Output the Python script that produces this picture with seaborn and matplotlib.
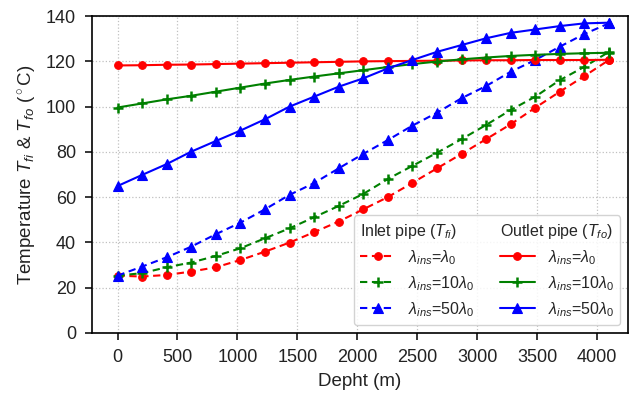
import numpy as np
import pandas as pd
import matplotlib
matplotlib.use("Agg")
import matplotlib.pyplot as plt
from matplotlib.lines import Line2D
import seaborn as sns

# Depth stations along the well (m)
depth = [0, 205, 410, 615, 820, 1025, 1230, 1435, 1640, 1845, 2050,
         2255, 2460, 2665, 2870, 3075, 3280, 3485, 3690, 3895, 4100]

# Inlet pipe temperature T_fi (deg C) for three insulation conductivities
inlet_1 = [25.3, 24.9, 25.6, 27.1, 29.0, 32.2, 35.9, 39.9, 44.5, 49.2, 54.6,
           60.0, 66.3, 72.7, 79.1, 85.6, 92.2, 99.5, 106.6, 113.5, 120.6]
inlet_10 = [25.3, 26.4, 29.0, 31.1, 34.0, 37.4, 41.8, 46.2, 51.1, 56.1, 61.4,
            68.0, 73.8, 79.6, 85.6, 91.9, 98.5, 104.4, 111.7, 117.6, 124.2]
inlet_50 = [25.3, 29.3, 33.4, 38.1, 43.6, 48.7, 54.6, 61.0, 66.2, 72.7, 79.1,
            85.2, 91.6, 97.3, 103.7, 109.1, 115.4, 120.6, 126.5, 132.1, 136.8]

# Outlet pipe temperature T_fo (deg C)
outlet_1 = [118.2, 118.3, 118.5, 118.6, 118.8, 119.0, 119.2, 119.4, 119.6, 119.8, 120.0,
            120.1, 120.2, 120.3, 120.4, 120.5, 120.5, 120.6, 120.6, 120.6, 120.7]
outlet_10 = [99.6, 101.4, 103.2, 104.8, 106.6, 108.4, 110.2, 111.8, 113.3, 114.7, 116.1,
             117.5, 118.8, 119.9, 120.9, 121.7, 122.4, 122.9, 123.3, 123.6, 123.8]
outlet_50 = [64.9, 69.8, 74.6, 80.1, 84.8, 89.4, 94.4, 100.0, 104.4, 108.8, 112.5,
             116.9, 120.6, 124.2, 127.2, 130.2, 132.6, 134.1, 135.6, 136.8, 137.1]

case_labels = [r"$\lambda_{ins}$=$\lambda_0$", r"$\lambda_{ins}$=10$\lambda_0$",
               r"$\lambda_{ins}$=50$\lambda_0$"]
colors = ["red", "green", "blue"]
markers = ["o", "+", "^"]
msize = {"o": 5.5, "+": 7.5, "^": 6.5}
mew = {"o": 0.8, "+": 1.8, "^": 0.8}
dash = (3.5, 2.2)

sns.set_style("ticks")
plt.rcParams["font.family"] = ["Liberation Sans", "DejaVu Sans"]
plt.rcParams["mathtext.fontset"] = "custom"
plt.rcParams["mathtext.rm"] = "Liberation Sans"
plt.rcParams["mathtext.it"] = "Liberation Sans:italic"
plt.rcParams["mathtext.bf"] = "Liberation Sans:bold"

fig = plt.figure(figsize=(6.30, 4.03), dpi=100)
ax = fig.add_axes([0.146, 0.174, 0.851, 0.786])

df = pd.DataFrame({"depth": depth,
                   "in1": inlet_1, "in10": inlet_10, "in50": inlet_50,
                   "out1": outlet_1, "out10": outlet_10, "out50": outlet_50})

inlet_cols = ["in1", "in10", "in50"]
outlet_cols = ["out1", "out10", "out50"]

for col, c, m in zip(inlet_cols, colors, markers):
    sns.lineplot(data=df, x="depth", y=col, ax=ax, color=c, dashes=dash,
                 marker=m, markersize=msize[m], markeredgewidth=mew[m],
                 markeredgecolor=c, linewidth=1.5, legend=False, zorder=3)
for col, c, m in zip(outlet_cols, colors, markers):
    sns.lineplot(data=df, x="depth", y=col, ax=ax, color=c, linestyle="-",
                 marker=m, markersize=msize[m], markeredgewidth=mew[m],
                 markeredgecolor=c, linewidth=1.5, legend=False, zorder=3)

ax.set_xlim(-213, 4260)
ax.set_ylim(0, 140)
ax.set_xticks(np.arange(0, 4001, 500))
ax.set_yticks(np.arange(0, 141, 20))
ax.grid(True, color="#c0c0c0", linestyle=":", linewidth=0.9)
ax.tick_params(direction="out", length=5, width=1.1, pad=6.5, colors="black",
               labelsize=13, labelcolor="#222222")
for sp in ax.spines.values():
    sp.set_visible(True)
    sp.set_color("black")
    sp.set_linewidth(1.2)

ax.set_xlabel("Depht (m)", fontsize=13.5, color="#222222", labelpad=5)
ax.set_ylabel(r"Temperature $T_{fi}$ & $T_{fo}$ ($^\circ$C)", fontsize=13.5,
              color="#222222", labelpad=5)


def make_handle(c, m, ls):
    kw = dict(color=c, marker=m, markersize=msize[m], markeredgewidth=mew[m],
              linewidth=1.5)
    if ls == "--":
        kw["dashes"] = dash
    else:
        kw["linestyle"] = "-"
    return Line2D([], [], **kw)


blank = Line2D([], [], linestyle="none", marker=None)
handles = [blank] + [make_handle(c, m, "--") for c, m in zip(colors, markers)]
handles += [blank] + [make_handle(c, m, "-") for c, m in zip(colors, markers)]
labels = [r"Inlet pipe ($T_{fi}$)"] + case_labels + [r"Outlet pipe ($T_{fo}$)"] + case_labels

leg = ax.legend(handles, labels, ncol=2, loc="lower right", fontsize=11.5,
                frameon=True, framealpha=0.85, edgecolor="#cccccc",
                handlelength=2.2, columnspacing=1.6, labelspacing=0.45)

# Header rows: drop the empty handle so the title text starts flush left
for vpack in leg._legend_handle_box.get_children():
    header = vpack.get_children()[0]
    header.get_children()[0].set_width(0)
    header.sep = 0

fig.savefig("out.png", dpi=100)
